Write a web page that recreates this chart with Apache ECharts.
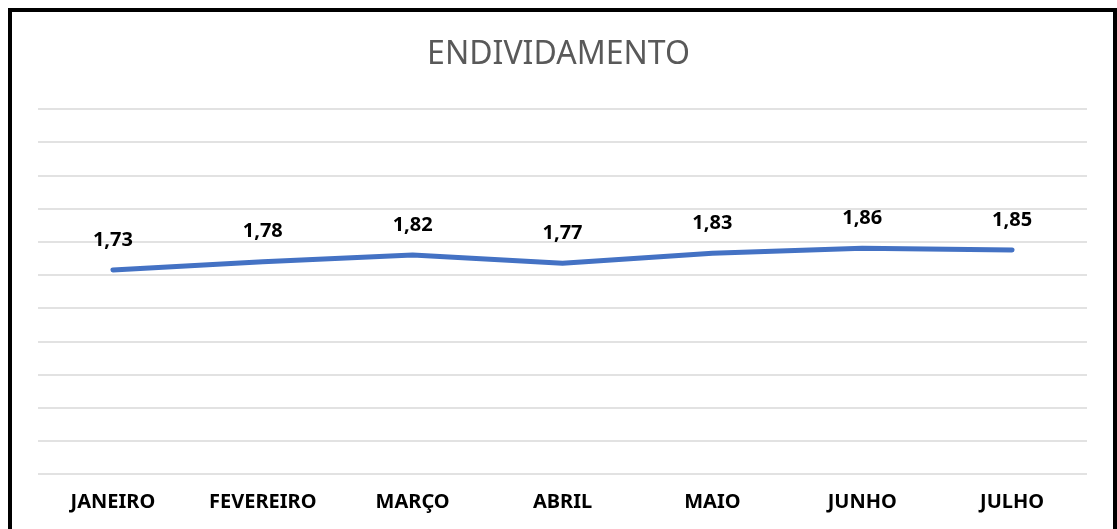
<!DOCTYPE html>
<html>
<head>
<meta charset="utf-8">
<script src="https://cdn.jsdelivr.net/npm/echarts@6/dist/echarts.min.js"></script>
<style>
	html, body { margin: 0; padding: 0; background: #fff; }
	#lineChart { width: 1117px; height: 529px; }
</style>
</head>
<body>
<div id="lineChart"></div>
<script>
	//meses (eixo X)
	var meses = ['JANEIRO', 'FEVEREIRO', 'MARÇO', 'ABRIL', 'MAIO', 'JUNHO', 'JULHO'];
	//endividamento
	var endividamento = [1.73, 1.78, 1.82, 1.77, 1.83, 1.86, 1.85];
	//eixo Y (oculto no original)
	var eixoMin = 0.5;
	var eixoMax = 2.7;
	var eixoPasso = 0.2;

	var fonte = '"Noto Sans", "Open Sans", sans-serif';
	var lineChart = echarts.init(document.getElementById('lineChart'));

	var chartOption = {
		backgroundColor: '#fff',
		animation: false,
		title: {
			text: 'ENDIVIDAMENTO',
			left: 'center',
			top: 34,
			textStyle: {
				color: '#595959',
				fontFamily: fonte,
				fontWeight: 'normal',
				fontSize: 32
			}
		},
		graphic: [{   //moldura preta
			type: 'rect',
			shape: { x: 10, y: 10, width: 1105, height: 600 },
			style: { fill: 'none', stroke: '#000', lineWidth: 4 },
			silent: true
		}],
		grid: {
			left: 38,
			right: 30,
			top: 109,
			bottom: 55
		},
		xAxis: [{
			type: 'category',
			data: meses,
			boundaryGap: true,
			axisLine: { show: false },
			axisTick: { show: false },
			axisLabel: {
				interval: 0,
				margin: 18,
				color: '#000',
				fontFamily: fonte,
				fontWeight: 'bold',
				fontSize: 20
			}
		}],
		yAxis: [{
			// linhas de grade: 11 divisoes iguais
			type: 'value',
			min: 0,
			max: (eixoMax - eixoMin) / eixoPasso,
			interval: 1,
			axisLabel: { show: false },
			axisLine: { show: false },
			axisTick: { show: false },
			splitLine: { lineStyle: { color: '#d9d9d9', width: 1.5 } }
		}, {
			// escala dos dados
			type: 'value',
			min: eixoMin,
			max: eixoMax,
			show: false,
			splitLine: { show: false }
		}],
		series: [{
			name: 'Endividamento',
			type: 'line',
			yAxisIndex: 1,
			data: endividamento,
			symbol: 'circle',
			symbolSize: 0,
			showSymbol: true,
			smooth: false,
			itemStyle: { color: '#4472c4' },
			lineStyle: {
				color: '#4472c4',
				width: 5,
				cap: 'round',
				join: 'round'
			},
			label: {
				show: true,
				position: 'top',
				distance: 20,
				color: '#000',
				fontFamily: fonte,
				fontWeight: 'bold',
				fontSize: 20,
				formatter: function (p) {
					return Number(p.value).toFixed(2).replace('.', ',');
				}
			}
		}]
	};
	lineChart.setOption(chartOption);
</script>
</body>
</html>
